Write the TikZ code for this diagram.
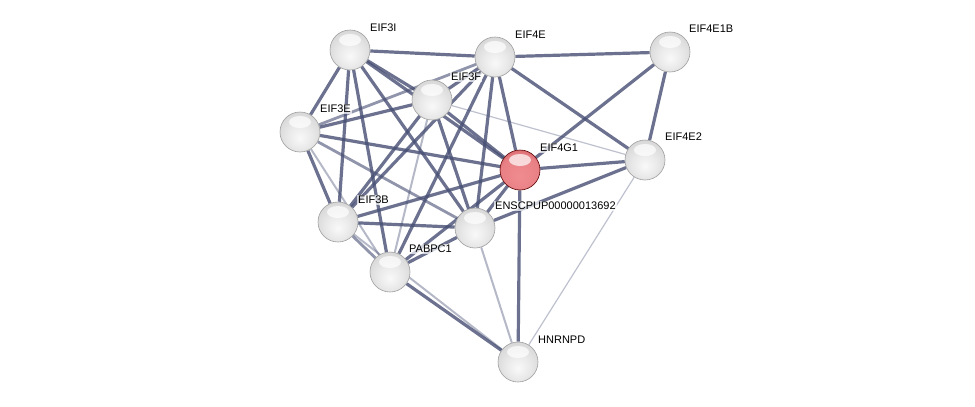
\documentclass[tikz,border=0pt]{standalone}
\usepackage{fontspec}
\setmainfont{Liberation Sans}
\usetikzlibrary{calc}

\definecolor{edgeblue}{RGB}{70,78,115}
\definecolor{redcore}{RGB}{240,140,145}
\definecolor{redrim}{RGB}{185,60,65}

\pgfdeclareradialshading{grayball}{\pgfpoint{0bp}{-8bp}}{%
  color(0bp)=(gray!5); color(16bp)=(gray!18); color(30bp)=(gray!32);
  color(40bp)=(gray!50); color(48bp)=(gray!68); color(60bp)=(gray!75)}
\pgfdeclareradialshading{redball}{\pgfpoint{0bp}{-8bp}}{%
  color(0bp)=(redcore); color(24bp)=(redcore!85!redrim); color(38bp)=(redrim!80!redcore);
  color(48bp)=(redrim); color(60bp)=(redrim!80!black)}

\pgfdeclarelayer{edges}
\pgfsetlayers{edges,main}

\tikzset{
  prot/.style={circle, minimum size=40pt, inner sep=0pt, draw=gray!75, line width=0.6pt, shading=grayball,
    path picture={\fill[white, opacity=0.7] ([yshift=-10pt]path picture bounding box.north) ellipse (11pt and 6pt);}},
  hit/.style={prot, draw=red!35!black, shading=redball},
  lbl/.style={anchor=west, inner sep=1pt, font=\fontsize{11}{13}\selectfont, fill=white, fill opacity=0.7, text opacity=1},
  strong/.style={draw=edgeblue, line width=3.2pt, opacity=0.8},
  medium/.style={draw=edgeblue, line width=2.8pt, opacity=0.6},
  weak/.style={draw=edgeblue, line width=2pt, opacity=0.4},
  faint/.style={draw=edgeblue, line width=1.2pt, opacity=0.35}
}

\begin{document}
\begin{tikzpicture}[x=1pt, y=-1pt]
  \useasboundingbox (0,0) rectangle (975,407);

  % proteins
  \node[prot] (I)  at (350,50)  {};
  \node[prot] (E)  at (495,57)  {};
  \node[prot] (B1) at (670,52)  {};
  \node[prot] (F)  at (432,100) {};
  \node[prot] (TE) at (300,132) {};
  \node[hit]  (G)  at (520,170) {};
  \node[prot] (E2) at (645,160) {};
  \node[prot] (TB) at (338,222) {};
  \node[prot] (N)  at (475,228) {};
  \node[prot] (P)  at (390,272) {};
  \node[prot] (H)  at (518,362) {};

  % edges (behind the balls)
  \begin{pgfonlayer}{edges}
    \foreach \a/\b in {I/E, E/B1, E/G, E/E2, E/N, E/TB, E/P, E/F,
                       B1/G, B1/E2, G/E2, G/H, G/N, G/TE, G/I, G/F, G/TB, G/P,
                       I/F, I/TE, I/TB, I/P, I/N, F/TE, F/TB, F/N,
                       TE/TB, TB/N, E2/N, P/N, P/H}
      \draw[strong] (\a) -- (\b);
    \foreach \a/\b in {TE/E, TE/N, TB/P}
      \draw[medium] (\a) -- (\b);
    \foreach \a/\b in {F/P, TE/P, N/H, TB/H}
      \draw[weak] (\a) -- (\b);
    \foreach \a/\b in {F/E2, E2/H}
      \draw[faint] (\a) -- (\b);
  \end{pgfonlayer}

  % labels
  \node[lbl] (lI)  at ([shift={(19,-22)}]I.center)  {EIF3I};
  \node[lbl] (lE)  at ([shift={(19,-22)}]E.center)  {EIF4E};
  \node[lbl] (lB1) at ([shift={(18,-23)}]B1.center) {EIF4E1B};
  \node[lbl] (lF)  at ([shift={(18,-23)}]F.center)  {EIF3F};
  \node[lbl] (lTE) at ([shift={(19,-23)}]TE.center) {EIF3E};
  \node[lbl] (lG)  at ([shift={(19,-22)}]G.center)  {EIF4G1};
  \node[lbl] (lE2) at ([shift={(19,-23)}]E2.center) {EIF4E2};
  \node[lbl] (lTB) at ([shift={(19,-22)}]TB.center) {EIF3B};
  \node[lbl] (lN)  at ([shift={(19,-22)}]N.center)  {ENSCPUP00000013692};
  \node[lbl] (lP)  at ([shift={(18,-23)}]P.center)  {PABPC1};
  \node[lbl] (lH)  at ([shift={(19,-22)}]H.center)  {HNRNPD};
\end{tikzpicture}
\end{document}
